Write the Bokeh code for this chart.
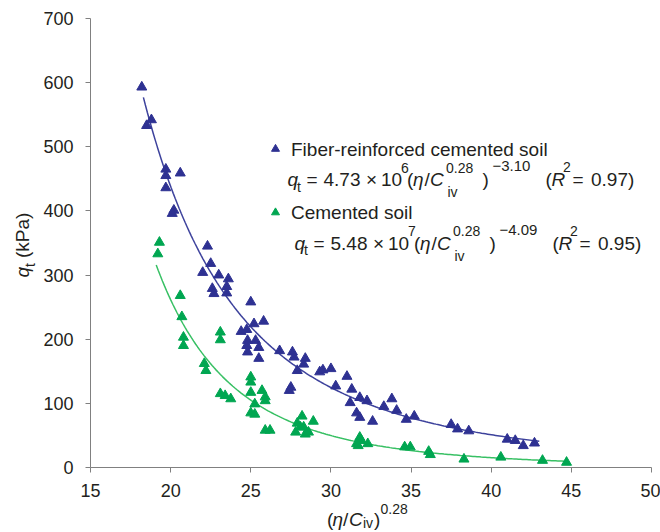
import math
import numpy as np
from bokeh.plotting import figure
from bokeh.models import Range1d, FixedTicker
from bokeh.core.properties import value
from bokeh.embed import file_html
from bokeh.resources import INLINE

# ---------------- data ----------------
fiber_x = [18.2, 18.8, 18.5, 19.7, 19.7, 20.6, 19.7, 20.2, 20.1, 22.3, 22.5, 22.0,
           23.0, 23.6, 22.6, 22.7, 23.5, 23.5, 25.0, 24.4, 24.75, 25.2, 25.8, 24.8,
           25.3, 24.75, 25.5, 24.8, 25.5, 26.8, 27.6, 27.7, 28.4, 28.3, 27.9, 29.3,
           27.5, 27.4, 29.5, 30.0, 31.0, 30.3, 31.3, 31.8, 32.25, 31.2, 31.6, 31.8,
           32.6, 33.3, 33.8, 34.1, 34.7, 35.2, 37.5, 37.9, 38.6, 41.0, 41.5, 42.0, 42.7]
fiber_y = [593, 542, 533, 465, 455, 459, 436, 401, 396, 345, 318, 304,
           300, 294, 279, 271, 282, 272, 258, 212, 215, 224, 228, 198,
           198, 190, 187, 180, 170, 182, 180, 172, 170, 161, 151, 149,
           125, 120, 152, 154, 142, 127, 122, 109, 104, 101, 85, 78,
           72, 95, 107, 89, 75, 80, 67, 60, 57, 44, 42, 34, 38]

cement_x = [19.3, 19.2, 20.6, 20.7, 20.8, 20.8, 23.1, 23.1, 22.1, 22.2, 23.1, 23.4,
            23.75, 25.0, 25.0, 25.0, 25.7, 25.9, 25.9, 25.25, 25.0, 25.25, 25.9, 26.2,
            28.2, 27.9, 28.9, 27.8, 28.3, 28.4, 28.6, 28.1, 31.8, 31.9, 31.6, 32.3,
            31.7, 34.6, 34.95, 36.1, 36.2, 38.3, 40.6, 43.2, 44.7]
cement_y = [351, 333, 268, 235, 203, 190, 211, 199, 162, 151, 115, 112,
            107, 141, 133, 117, 120, 110, 104, 99, 85, 83, 58, 58,
            80, 69, 72, 55, 63, 52, 55, 63, 47, 42, 37, 37,
            34, 32, 32, 25, 20, 13, 16, 11, 8]

x_ticks = [15, 20, 25, 30, 35, 40, 45, 50]
y_ticks = [0, 100, 200, 300, 400, 500, 600, 700]

# fitted power laws stated on the chart: q = a * x^b
fiber_coef, fiber_exp = 4.73e6, -3.10
cement_coef, cement_exp = 5.48e7, -4.09
fiber_fit_span = (18.3, 43.0)
cement_fit_span = (19.1, 44.8)

# ---------------- styling / geometry ----------------
BLUE = "#2e3192"
BLUE_LINE = "#3d429c"
GREEN = "#00a651"
GREEN_LINE = "#38c064"
TXT = "#231f20"
AX = "#808080"
FONT = "Liberation Sans"
K = 0.42  # empirical baseline correction (fraction of font size)

W, H = 660, 532
ML, MR, MT, MB = 90, 9, 18, 65
X0, X1, Y0, Y1 = 15, 50, 0, 700
FW = W - ML - MR
FH = H - MT - MB


def dx(px):
    return X0 + (px - ML) * (X1 - X0) / FW


def dy(py):
    return Y1 - (py - MT) * (Y1 - Y0) / FH


p = figure(width=W, height=H, x_range=Range1d(X0, X1), y_range=Range1d(Y0, Y1),
           output_backend="svg", toolbar_location=None, title=None,
           min_border_left=ML, min_border_right=MR, min_border_top=MT,
           min_border_bottom=MB)
p.outline_line_color = None
p.grid.visible = False
p.background_fill_color = "white"
p.border_fill_color = "white"

for ax in (p.xaxis[0], p.yaxis[0]):
    ax.axis_line_color = AX
    ax.major_tick_line_color = AX
    ax.minor_tick_line_color = None
    ax.major_tick_out = 5
    ax.major_tick_in = 0
    ax.major_label_text_font = FONT
    ax.major_label_text_font_size = "18px"
    ax.major_label_text_color = TXT
p.xaxis[0].ticker = FixedTicker(ticks=x_ticks)
p.yaxis[0].ticker = FixedTicker(ticks=y_ticks)
p.xaxis[0].major_label_standoff = 11
p.yaxis[0].major_label_standoff = 12

# fit curves
fx = np.linspace(fiber_fit_span[0], fiber_fit_span[1], 200)
p.line(fx, fiber_coef * fx ** fiber_exp, line_color=BLUE_LINE, line_width=1.5)
cx = np.linspace(cement_fit_span[0], cement_fit_span[1], 200)
p.line(cx, cement_coef * cx ** cement_exp, line_color=GREEN_LINE, line_width=1.5)

# data points
p.scatter(fiber_x, fiber_y, marker="triangle", size=10, color=BLUE)
p.scatter(cement_x, cement_y, marker="triangle", size=10, color=GREEN)

# legend markers
p.scatter([dx(275)], [dy(148.5)], marker="triangle", size=8, color=BLUE)
p.scatter([dx(275)], [dy(212)], marker="triangle", size=8, color=GREEN)


def put(txt, px, py, size=19, italic=False, rotated=False):
    if rotated:
        px = px - K * size
    else:
        py = py - K * size
    p.text(x=[dx(px)], y=[dy(py)], text=[txt], text_font=value(FONT),
           text_font_size=value(f"{size}px"),
           text_font_style="italic" if italic else "normal",
           text_color=TXT, text_align="left", text_baseline="alphabetic",
           angle=math.pi / 2 if rotated else 0.0, level="overlay")


put("Fiber-reinforced cemented soil", 290.5, 157)
put("Cemented soil", 290.5, 219.5)

S = 14  # script size


def equation(coef, power, expo, r2, x0, base):
    put("q", x0 + 0, base, italic=True)
    put("t", x0 + 9.5, base + 5, S)
    put("=", x0 + 19, base)
    put(coef, x0 + 36, base)
    put("\u00d7", x0 + 78.5, base)
    put("10", x0 + 93.5, base)
    put(power, x0 + 113.5, base - 14, S)
    put("(", x0 + 119.5, base)
    put("\u03b7", x0 + 125.5, base, italic=True)
    put("/", x0 + 137, base)
    put("C", x0 + 142.5, base, italic=True)
    put("0.28", x0 + 158.5, base - 14, S)
    put("iv", x0 + 160, base + 10.5, S)
    put(")", x0 + 195, base)
    put(expo, x0 + 205, base - 15, 15)
    put("(", x0 + 258, base)
    put("R", x0 + 264, base, italic=True)
    put("2", x0 + 275.5, base - 14.5, S)
    put("=", x0 + 285, base)
    put(r2 + ")", x0 + 303.5, base)


equation("4.73", "6", "\u22123.10", "0.97", 287, 187)
equation("5.48", "7", "\u22124.09", "0.95", 294, 250.5)

# x axis title: (eta/C_iv)^0.28
put("(", 326.5, 526.5)
put("\u03b7", 332, 526.5, italic=True)
put("/", 342.5, 526.5)
put("C", 348.5, 526.5, italic=True)
put("iv", 362.5, 528.5, S)
put(")", 373.5, 526.5)
put("0.28", 380, 514, S)

# y axis title: q_t (kPa), rotated
put("q", 30, 277, italic=True, rotated=True)
put("t", 35, 266.4, S, rotated=True)
put("(kPa)", 30, 257.5, rotated=True)

open("out.html", "w").write(file_html(p, INLINE))
